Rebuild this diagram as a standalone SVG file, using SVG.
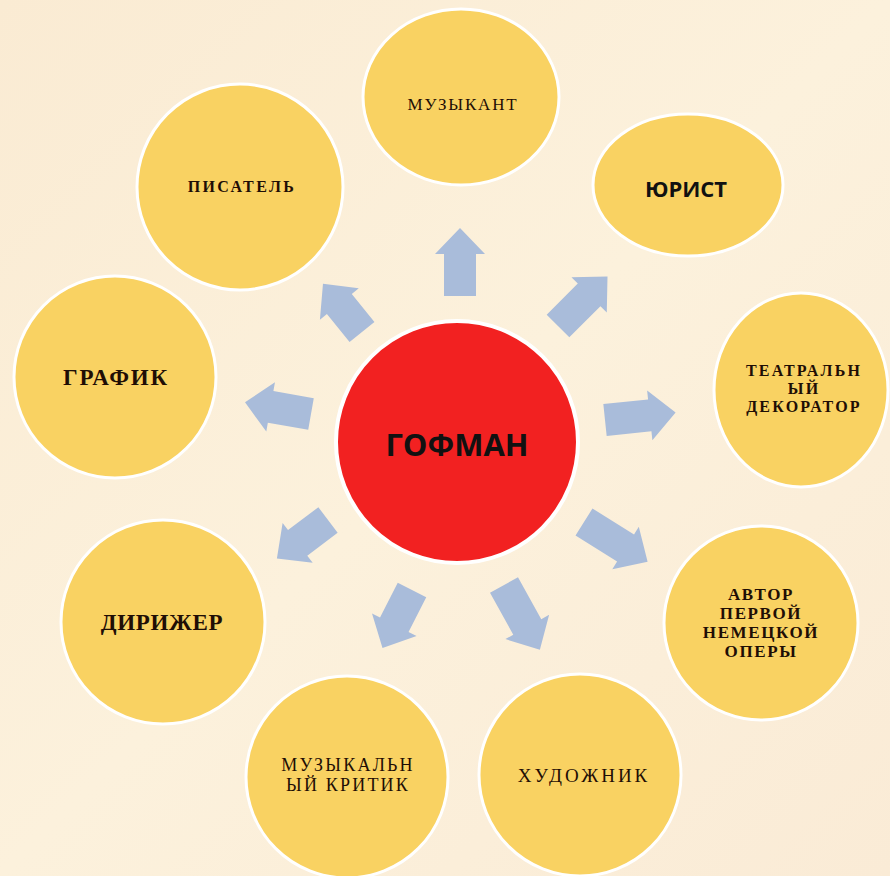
<svg xmlns="http://www.w3.org/2000/svg" width="890" height="876" viewBox="0 0 890 876">
<defs>
<linearGradient id="bg" x1="0" y1="0" x2="1" y2="1">
<stop offset="0" stop-color="#FAEBD3"/>
<stop offset="0.5" stop-color="#FCF1DC"/>
<stop offset="1" stop-color="#FAEBD6"/>
</linearGradient>
<style>
.n{fill:#F9D262;stroke:#FFFFFF;stroke-width:3}
.c{fill:#F22121;stroke:#FFFFFF;stroke-width:4}
.a{fill:#A9BCDA}
.t{font-family:"Liberation Serif",serif;font-weight:bold;fill:#1F0E05;text-anchor:middle}
.r{font-weight:normal}
.s{font-family:"Open Sans","Liberation Sans",sans-serif;font-weight:bold;fill:#111;text-anchor:middle}
</style>
</defs>
<rect width="890" height="876" fill="url(#bg)"/>
<g id="connectors">
<polygon class="a" transform="translate(460,296) rotate(-90)" points="0,-16 42,-16 42,-25 68,0 42,25 42,16 0,16"/>
<polygon class="a" transform="translate(558,326) rotate(-45)" points="0,-16 44,-16 44,-25 70,0 44,25 44,16 0,16"/>
<polygon class="a" transform="translate(362,332) rotate(-129)" points="0,-16 36,-16 36,-25 62,0 36,25 36,16 0,16"/>
<polygon class="a" transform="translate(311,414) rotate(-170)" points="0,-16 41,-16 41,-25 67,0 41,25 41,16 0,16"/>
<polygon class="a" transform="translate(605,420) rotate(-6)" points="0,-16 45,-16 45,-25 71,0 45,25 45,16 0,16"/>
<polygon class="a" transform="translate(584,522) rotate(32)" points="0,-16 49,-16 49,-25 75,0 49,25 49,16 0,16"/>
<polygon class="a" transform="translate(504,585) rotate(61)" points="0,-16 48,-16 48,-25 74,0 48,25 48,16 0,16"/>
<polygon class="a" transform="translate(412,590) rotate(117)" points="0,-16 39,-16 39,-25 65,0 39,25 39,16 0,16"/>
<polygon class="a" transform="translate(328,520) rotate(143)" points="0,-16 38,-16 38,-25 64,0 38,25 38,16 0,16"/>
</g>
<g id="center">
<circle class="c" cx="457" cy="442" r="121"/>
<text class="s" x="457" y="456" font-size="31">ГОФМАН</text>
</g>
<g id="musician">
<ellipse class="n" cx="461" cy="97" rx="98" ry="88"/>
<text class="t r" x="463" y="110" font-size="17" letter-spacing="1.8">МУЗЫКАНТ</text>
</g>
<g id="lawyer">
<ellipse class="n" cx="688" cy="185" rx="95" ry="71"/>
<text class="s" x="686" y="197" font-size="22">ЮРИСТ</text>
</g>
<g id="writer">
<circle class="n" cx="240" cy="187" r="103"/>
<text class="t" x="242" y="192" font-size="16" letter-spacing="2.4">ПИСАТЕЛЬ</text>
</g>
<g id="decorator">
<ellipse class="n" cx="801" cy="390" rx="87" ry="97"/>
<text class="t" x="804" y="376" font-size="16" letter-spacing="2.2">ТЕАТРАЛЬН</text>
<text class="t" x="804" y="394" font-size="16" letter-spacing="2.2">ЫЙ</text>
<text class="t" x="804" y="412" font-size="16" letter-spacing="2.2">ДЕКОРАТОР</text>
</g>
<g id="graphic">
<circle class="n" cx="115" cy="377" r="101"/>
<text class="t" x="116" y="385" font-size="23" letter-spacing="1.8">ГРАФИК</text>
</g>
<g id="opera">
<circle class="n" cx="761" cy="623" r="97"/>
<text class="t" x="761" y="600" font-size="17" letter-spacing="1.6">АВТОР</text>
<text class="t" x="761" y="619" font-size="17" letter-spacing="1.6">ПЕРВОЙ</text>
<text class="t" x="761" y="638" font-size="17" letter-spacing="1.6">НЕМЕЦКОЙ</text>
<text class="t" x="761" y="657" font-size="17" letter-spacing="1.6">ОПЕРЫ</text>
</g>
<g id="conductor">
<circle class="n" cx="163" cy="622" r="102"/>
<text class="t" x="162" y="630" font-size="23" letter-spacing="0.7">ДИРИЖЕР</text>
</g>
<g id="critic">
<circle class="n" cx="347" cy="777" r="101"/>
<text class="t r" x="348" y="771" font-size="18" letter-spacing="2.2">МУЗЫКАЛЬН</text>
<text class="t r" x="348" y="791" font-size="18" letter-spacing="2.2">ЫЙ КРИТИК</text>
</g>
<g id="artist">
<circle class="n" cx="580" cy="775" r="101"/>
<text class="t r" x="584" y="782" font-size="19" letter-spacing="3">ХУДОЖНИК</text>
</g>
</svg>
